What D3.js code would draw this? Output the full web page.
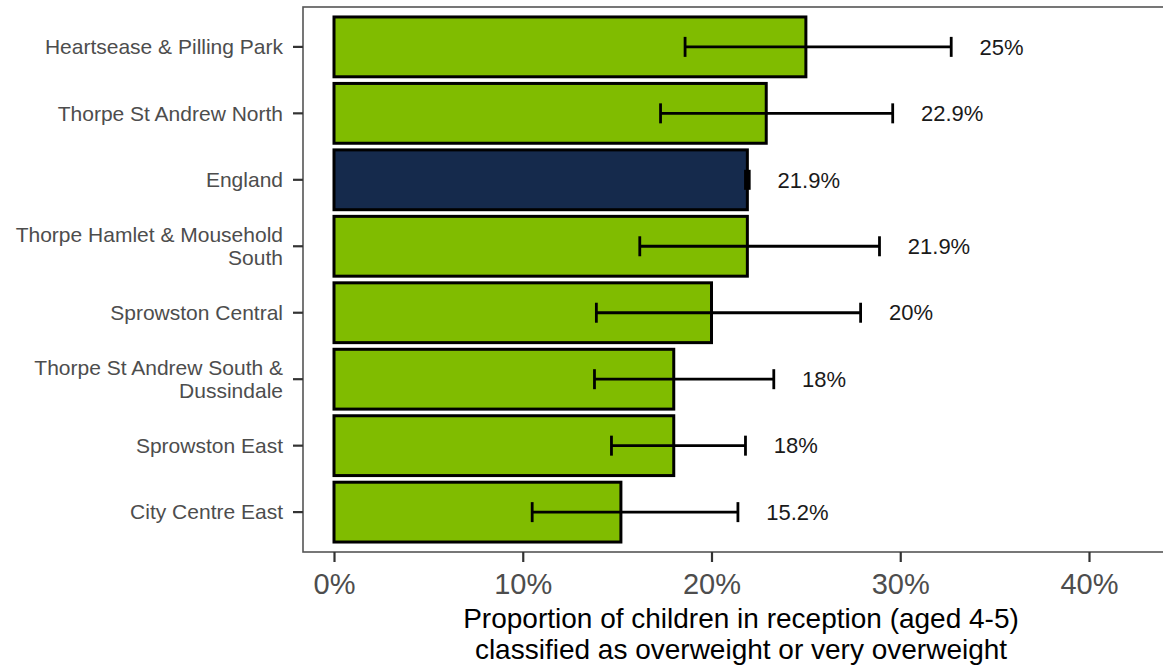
<!DOCTYPE html>
<html>
<head>
<meta charset="utf-8">
<script src="https://cdn.jsdelivr.net/npm/d3@7"></script>
<style>
  html, body { margin: 0; padding: 0; background: #fff; }
  svg { display: block; font-family: "Liberation Sans", Arial, sans-serif; }
</style>
</head>
<body>
<svg id="chart" width="1163" height="667"></svg>
<script>
const categories = [
  ["Heartsease & Pilling Park"],
  ["Thorpe St Andrew North"],
  ["England"],
  ["Thorpe Hamlet & Mousehold", "South"],
  ["Sprowston Central"],
  ["Thorpe St Andrew South &", "Dussindale"],
  ["Sprowston East"],
  ["City Centre East"]
];
const values = [25.0, 22.9, 21.9, 21.9, 20.0, 18.0, 18.0, 15.2];
const lowerCI = [18.6, 17.3, 21.8, 16.2, 13.9, 13.8, 14.7, 10.5];
const upperCI = [32.7, 29.6, 22.0, 28.9, 27.9, 23.3, 21.8, 21.4];
const valueLabels = ["25%", "22.9%", "21.9%", "21.9%", "20%", "18%", "18%", "15.2%"];
const isEngland = [false, false, true, false, false, false, false, false];
const xTicks = [0, 10, 20, 30, 40];
const xTitle = ["Proportion of children in reception (aged 4-5)", "classified as overweight or very overweight"];

const svg = d3.select("#chart");
const panel = { left: 303, top: 7, right: 1180, bottom: 552 };

const x = d3.scaleLinear().domain([0, 40]).range([334, 1089]);
const idx = d3.range(categories.length);
const y = d3.scaleBand().domain(idx).range([panel.top, panel.bottom])
  .paddingInner(0.1).paddingOuter(0.15);

const green = "#80bc00";
const navy = "#152a4c";

// bars
svg.append("g").selectAll("rect").data(idx).join("rect")
  .attr("x", x(0))
  .attr("y", i => y(i))
  .attr("width", i => x(values[i]) - x(0))
  .attr("height", y.bandwidth())
  .attr("fill", i => isEngland[i] ? navy : green)
  .attr("stroke", "#000")
  .attr("stroke-width", 3);

// error bars
const eb = svg.append("g").attr("stroke", "#000").attr("stroke-width", 2.8);
idx.forEach(i => {
  const cy = y(i) + y.bandwidth() / 2;
  eb.append("line").attr("x1", x(lowerCI[i])).attr("x2", x(upperCI[i])).attr("y1", cy).attr("y2", cy);
  eb.append("line").attr("x1", x(lowerCI[i])).attr("x2", x(lowerCI[i])).attr("y1", cy - 10).attr("y2", cy + 10);
  eb.append("line").attr("x1", x(upperCI[i])).attr("x2", x(upperCI[i])).attr("y1", cy - 10).attr("y2", cy + 10);
});

// value labels
svg.append("g").selectAll("text").data(idx).join("text")
  .attr("x", i => x(upperCI[i] + 1.5))
  .attr("y", i => y(i) + y.bandwidth() / 2)
  .attr("dy", "0.35em")
  .attr("font-size", 22)
  .attr("fill", "#1a1a1a")
  .text(i => valueLabels[i]);

// panel border
svg.append("rect")
  .attr("x", panel.left).attr("y", panel.top)
  .attr("width", panel.right - panel.left).attr("height", panel.bottom - panel.top)
  .attr("fill", "none").attr("stroke", "#555").attr("stroke-width", 1.6);

// y axis
const yAxis = svg.append("g").attr("transform", `translate(${panel.left},0)`)
  .call(d3.axisLeft(y).tickSize(10).tickFormat(""));
yAxis.select(".domain").remove();
yAxis.selectAll(".tick line").attr("stroke", "#333").attr("stroke-width", 2.2);
yAxis.selectAll(".tick").each(function(i) {
  const lines = categories[i];
  const t = d3.select(this).append("text")
    .attr("x", -20).attr("fill", "#4d4d4d").attr("font-size", 21)
    .attr("text-anchor", "end").attr("font-family", "Liberation Sans, Arial, sans-serif");
  const lh = 23;
  const off = -(lines.length - 1) * lh / 2;
  lines.forEach((l, k) => {
    t.append("tspan").attr("x", -20).attr("y", off + k * lh).attr("dy", "0.35em").text(l);
  });
});

// x axis
const xAxis = svg.append("g").attr("transform", `translate(0,${panel.bottom})`)
  .call(d3.axisBottom(x).tickValues(xTicks).tickSize(10).tickFormat(d => d + "%"));
xAxis.select(".domain").remove();
xAxis.selectAll(".tick line").attr("stroke", "#333").attr("stroke-width", 2.2);
xAxis.selectAll(".tick text").attr("fill", "#4d4d4d").attr("font-size", 29)
  .attr("font-family", "Liberation Sans, Arial, sans-serif").attr("y", 42).attr("dy", "0");

// x title
const tt = svg.append("text").attr("text-anchor", "middle").attr("font-size", 28).attr("fill", "#000");
xTitle.forEach((l, k) => {
  tt.append("tspan").attr("x", 741).attr("y", 628 + k * 31).text(l);
});
</script>
</body>
</html>
